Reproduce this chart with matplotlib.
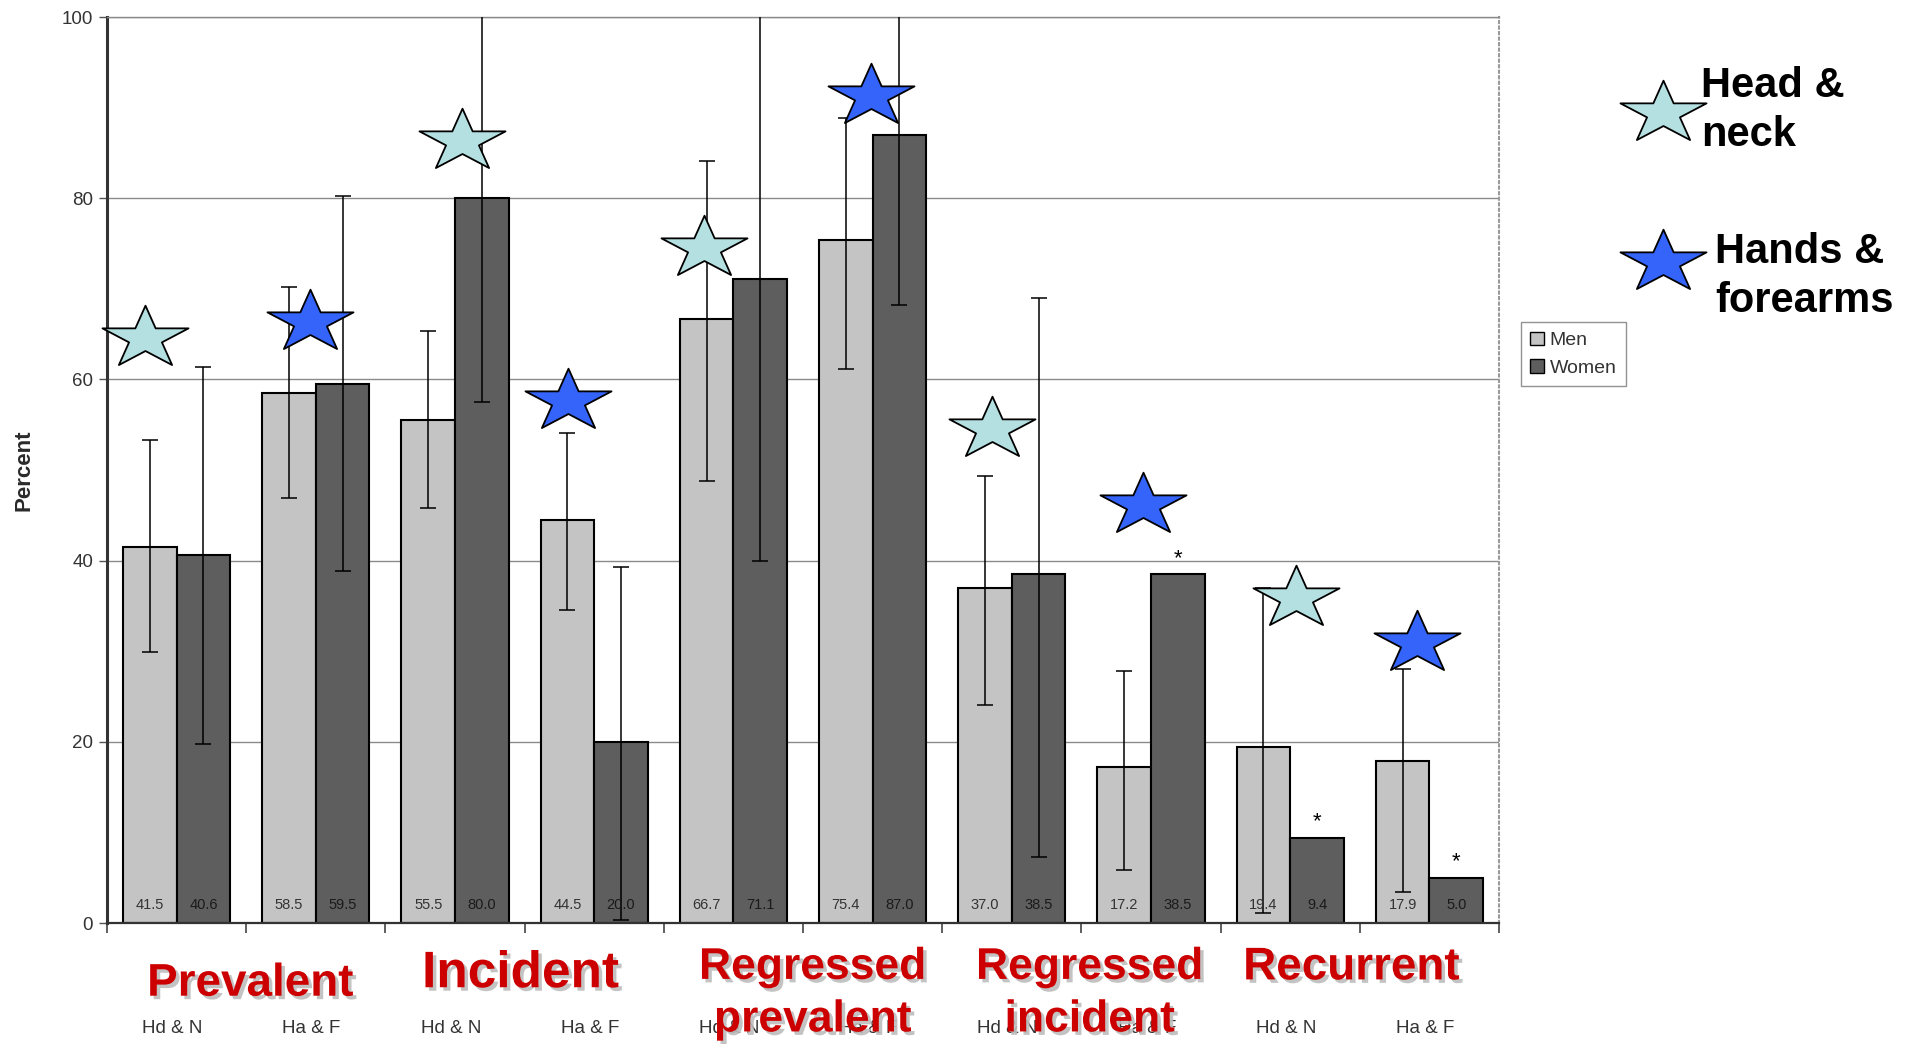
import matplotlib
matplotlib.use('Agg')
import matplotlib.pyplot as plt
import numpy as np
from matplotlib import patheffects as pe
from matplotlib.lines import Line2D
from matplotlib.patches import Patch
from matplotlib.path import Path

plt.rcParams['font.family'] = ['Liberation Sans', 'DejaVu Sans']

# ---- data ----
site_labels = ['Hd & N', 'Ha & F', 'Hd & N', 'Ha & F', 'Hd & N', 'Ha & F',
               'Hd & N', 'Ha & F', 'Hd & N', 'Ha & F']
group_names = ['Prevalent', 'Incident', 'Regressed\nprevalent', 'Regressed\nincident', 'Recurrent']
men = [41.5, 58.5, 55.5, 44.5, 66.7, 75.4, 37.0, 17.2, 19.4, 17.9]
women = [40.6, 59.5, 80.0, 20.0, 71.1, 87.0, 38.5, 38.5, 9.4, 5.0]
men_lo = [29.9, 46.9, 45.8, 34.6, 48.8, 61.2, 24.1, 5.8, 1.1, 3.4]
men_hi = [53.3, 70.2, 65.3, 54.1, 84.1, 88.8, 49.3, 27.8, 37.0, 28.0]
women_lo = [19.8, 38.8, 57.5, 0.3, 40.0, 68.2, 7.3, np.nan, np.nan, np.nan]
women_hi = [61.4, 80.2, 105.0, 39.3, 105.0, 105.0, 69.0, np.nan, np.nan, np.nan]
women_sig = [False, False, False, False, False, False, False, True, True, True]
star_y = [64.6, 66.3, 86.3, 57.6, 74.5, 91.3, 54.5, 46.1, 35.9, 30.9]
star_dx = [-0.23, -0.04, 0.05, -0.19, -0.21, -0.01, -0.14, -0.06, 0.04, -0.09]
star_kind = ['Head & neck', 'Hands & forearms'] * 5
yticks = [0, 20, 40, 60, 80, 100]

# ---- style ----
men_color = '#c4c4c4'
women_color = '#5e5e5e'
star_colors = {'Head & neck': '#b5e0e2', 'Hands & forearms': '#3464fa'}
red = '#cc0000'

# horizontally stretched five-pointed star marker
_star = Path.unit_regular_star(5, 0.381966)
_v = _star.vertices.copy()
_v[:, 0] *= 1.38
star_marker = Path(_v, _star.codes)
STAR_MS = 62

fig = plt.figure(figsize=(19.15, 10.44), dpi=100)
ax = fig.add_axes([0.0559, 0.1159, 0.7269, 0.8678])

x = np.arange(len(men))
w = 0.385
off = 0.1925
ax.bar(x - off, men, width=w, color=men_color, edgecolor='black', linewidth=1.5, zorder=2)
ax.bar(x + off, women, width=w, color=women_color, edgecolor='black', linewidth=1.5, zorder=2)

men_arr = np.array(men)
women_arr = np.array(women)
ax.errorbar(x - off, men_arr, yerr=[men_arr - np.array(men_lo), np.array(men_hi) - men_arr],
            fmt='none', ecolor='black', elinewidth=1.1, capsize=6, capthick=1.1, zorder=3)
wl = np.array(women_lo)
wh = np.array(women_hi)
ok = ~np.isnan(wl)
ax.errorbar((x + off)[ok], women_arr[ok], yerr=[women_arr[ok] - wl[ok], wh[ok] - women_arr[ok]],
            fmt='none', ecolor='black', elinewidth=1.1, capsize=6, capthick=1.1, zorder=3)

for i in range(len(men)):
    ax.text(x[i] - off, 2.0, f'{men[i]:.1f}', ha='center', va='center', fontsize=10.5, color='#333333', zorder=4)
    ax.text(x[i] + off, 2.0, f'{women[i]:.1f}', ha='center', va='center', fontsize=10.5, color='#1a1a1a', zorder=4)
    if women_sig[i]:
        ax.text(x[i] + off, women[i] + 0.6, '*', ha='center', va='bottom', fontsize=16, color='black', zorder=4)

for i in range(len(star_y)):
    ax.plot(x[i] + star_dx[i], star_y[i], marker=star_marker, markersize=STAR_MS,
            markerfacecolor=star_colors[star_kind[i]], markeredgecolor='black',
            markeredgewidth=1.3, zorder=5, clip_on=False)

ax.set_xlim(-0.5, 9.5)
ax.set_ylim(0, 100)
ax.set_yticks(yticks)
ax.set_yticklabels([str(t) for t in yticks], fontsize=13.5, color='#333333')
ax.tick_params(axis='y', length=6, width=1, color='#555555', pad=4)
ax.set_xticks(x - 0.03)
ax.set_xticklabels(site_labels, fontsize=13.5, color='#333333')
ax.tick_params(axis='x', length=0, pad=70)
ax.set_xticks(np.arange(-0.5, 10.0, 1.0), minor=True)
ax.tick_params(axis='x', which='minor', length=7, width=1.2, color='#444444')
ax.yaxis.grid(True, color='#8a8a8a', linewidth=1.0, zorder=0)
ax.set_axisbelow(True)
ax.set_ylabel('Percent', fontsize=16, fontweight='bold', color='#2a2a2a', labelpad=20)

ax.spines['left'].set_linewidth(2.2)
ax.spines['left'].set_color('#333333')
ax.spines['bottom'].set_linewidth(1.6)
ax.spines['bottom'].set_color('#333333')
ax.spines['top'].set_color('#8a8a8a')
ax.spines['top'].set_linewidth(1.0)
ax.spines['right'].set_color('#9a9a9a')
ax.spines['right'].set_linestyle(':')
ax.spines['right'].set_linewidth(1.5)

# group labels
shadow = [pe.SimplePatchShadow(offset=(2.5, -2.5), shadow_rgbFace='#bdbdbd', alpha=0.9), pe.Normal()]
tr = ax.get_xaxis_transform()
group_x = [0.53, 2.47, 4.57, 6.56, 8.44]
group_y = [-0.067, -0.056, -0.049, -0.049, -0.049]
group_fs = [33, 37, 32, 32, 33]
for gx, gy, gname, fs in zip(group_x, group_y, group_names, group_fs):
    lines = gname.split('\n')
    for k, line in enumerate(lines):
        ax.text(gx, gy - k * 0.058, line, transform=tr, ha='center', va='center',
                fontsize=fs, fontweight='bold', color=red, path_effects=shadow,
                clip_on=False, zorder=6)

# Men/Women legend
leg = fig.legend(handles=[Patch(facecolor=men_color, edgecolor='black'),
                          Patch(facecolor=women_color, edgecolor='black')],
                 labels=['Men', 'Women'], loc='upper left', bbox_to_anchor=(0.789, 0.701),
                 frameon=True, fancybox=False, edgecolor='#777777', fontsize=14,
                 handlelength=0.7, handleheight=0.7, handletextpad=0.3,
                 borderpad=0.5, labelspacing=0.5)
for t in leg.get_texts():
    t.set_color('#333333')

# star key
key_y = [0.892, 0.749]
key_text_x = [0.8885, 0.8955]
key_text_y = [0.894, 0.735]
key_labels = ['Head &\nneck', 'Hands &\nforearms']
for kind, ky, kx, kty, lab in zip(['Head & neck', 'Hands & forearms'], key_y, key_text_x, key_text_y, key_labels):
    fig.add_artist(Line2D([0.8685], [ky], transform=fig.transFigure, marker=star_marker,
                          markersize=STAR_MS, markerfacecolor=star_colors[kind],
                          markeredgecolor='black', markeredgewidth=1.3, linestyle='none'))
    fig.text(kx, kty, lab, ha='left', va='center', fontsize=30, fontweight='bold',
             color='black', linespacing=1.3)

fig.savefig('out.png', dpi=100)
